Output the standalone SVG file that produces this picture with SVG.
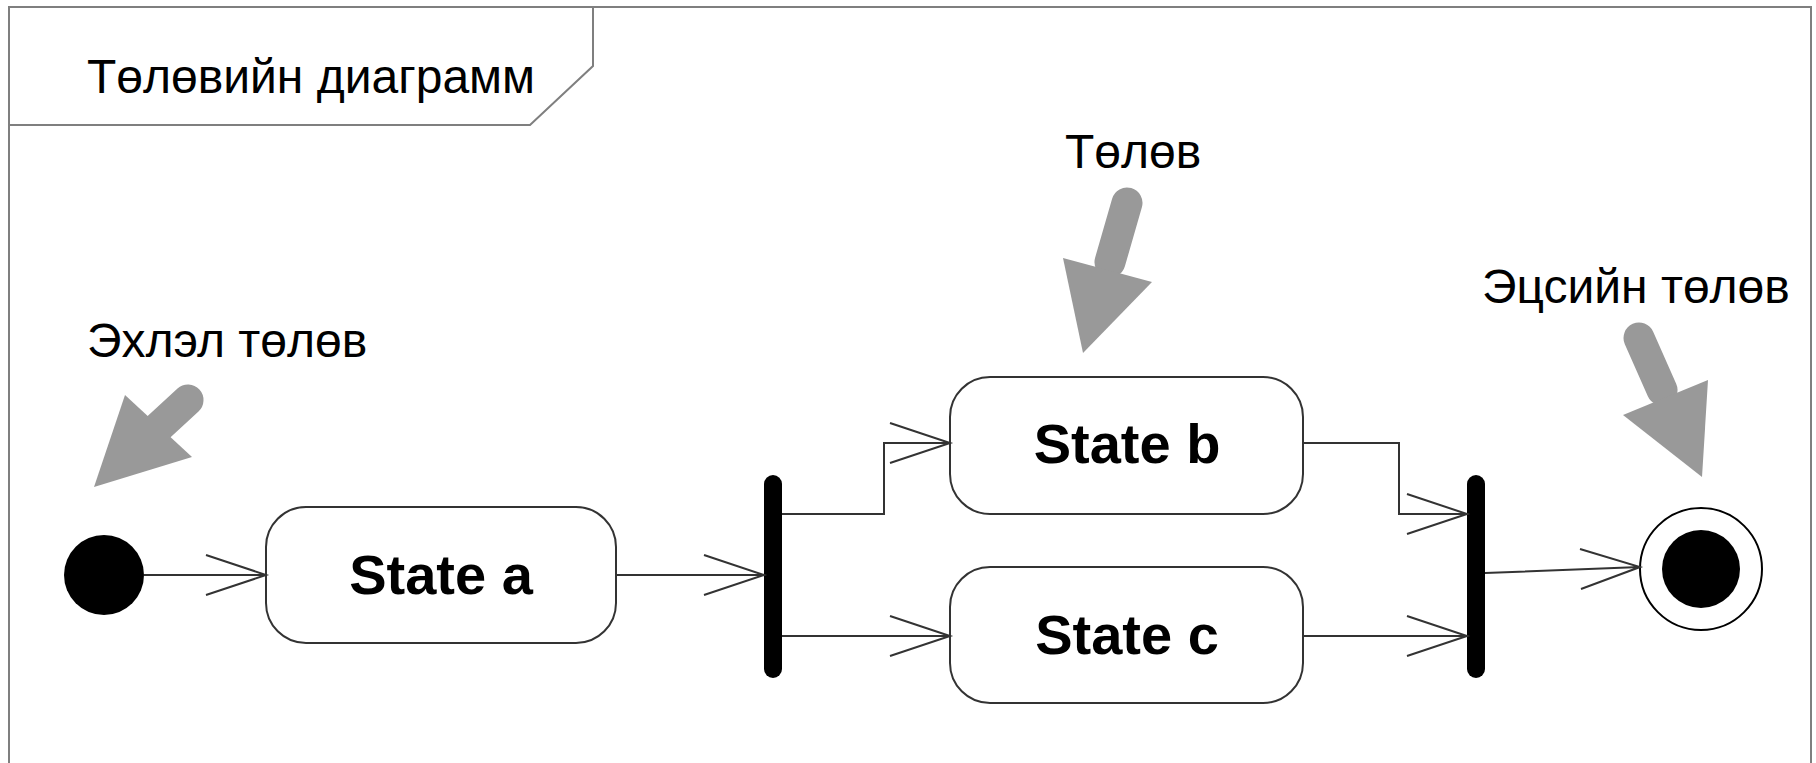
<svg xmlns="http://www.w3.org/2000/svg" width="1816" height="763" viewBox="0 0 1816 763">
<style>
.lbl{font-family:"Liberation Sans",Arial,sans-serif;font-size:48px;fill:#000}
.st{font-family:"Liberation Sans",Arial,sans-serif;font-size:56px;font-weight:bold;fill:#000;text-anchor:middle}
.box{fill:#fff;stroke:#333;stroke-width:2}
.conn{fill:none;stroke:#333;stroke-width:2}
.gray{fill:#999;stroke:none}
.shaft{stroke:#999;stroke-width:31;stroke-linecap:round;fill:none}
</style>
<rect width="1816" height="763" fill="#fff"/>
<g id="frame">
<rect x="9" y="7" width="1802" height="760" fill="none" stroke="#7f7f7f" stroke-width="2"/>
<path d="M9,125 H530 L593,66 V7" fill="none" stroke="#7f7f7f" stroke-width="2"/>
<text class="lbl" x="87" y="93">Төлөвийн диаграмм</text>
</g>
<g id="callout-start">
<text class="lbl" x="87" y="357">Эхлэл төлөв</text>
<line class="shaft" x1="188" y1="400" x2="150" y2="435"/>
<polygon class="gray" points="125,395 192,457 94,487"/>
</g>
<g id="callout-state">
<text class="lbl" x="1065" y="168">Төлөв</text>
<line class="shaft" x1="1127" y1="203" x2="1110" y2="262"/>
<polygon class="gray" points="1063,258 1152,282 1083,353"/>
</g>
<g id="callout-final">
<text class="lbl" x="1482" y="303">Эцсийн төлөв</text>
<line class="shaft" x1="1639" y1="338" x2="1662" y2="390"/>
<polygon class="gray" points="1623,415 1708,380 1702,477"/>
</g>
<g id="initial"><circle cx="104" cy="575" r="40" fill="#000"/></g>
<g id="stateA"><rect class="box" x="266" y="507" width="350" height="136" rx="40"/><text class="st" x="441" y="594">State a</text></g>
<g id="fork"><line x1="773" y1="484" x2="773" y2="669" stroke="#000" stroke-width="18" stroke-linecap="round"/></g>
<g id="stateB"><rect class="box" x="950" y="377" width="353" height="137" rx="40"/><text class="st" x="1127" y="463">State b</text></g>
<g id="stateC"><rect class="box" x="950" y="567" width="353" height="136" rx="40"/><text class="st" x="1127" y="654">State c</text></g>
<g id="join"><line x1="1476" y1="484" x2="1476" y2="669" stroke="#000" stroke-width="18" stroke-linecap="round"/></g>
<g id="final"><circle cx="1701" cy="569" r="61" fill="#fff" stroke="#000" stroke-width="2"/><circle cx="1701" cy="569" r="39" fill="#000"/></g>
<g id="connectors">
<path class="conn" d="M144,575 H266 M206,555 L266,575 L206,595"/>
<path class="conn" d="M616,575 H764 M704,555 L764,575 L704,595"/>
<path class="conn" d="M782,514 H884 V443 H950 M890,423 L950,443 L890,463"/>
<path class="conn" d="M782,636 H950 M890,616 L950,636 L890,656"/>
<path class="conn" d="M1303,443 H1399 V514 H1467 M1407,494 L1467,514 L1407,534"/>
<path class="conn" d="M1303,636 H1467 M1407,616 L1467,636 L1407,656"/>
<path class="conn" d="M1485,573 L1640,567 M1580,549 L1640,567 L1581,589"/>
</g>
</svg>
